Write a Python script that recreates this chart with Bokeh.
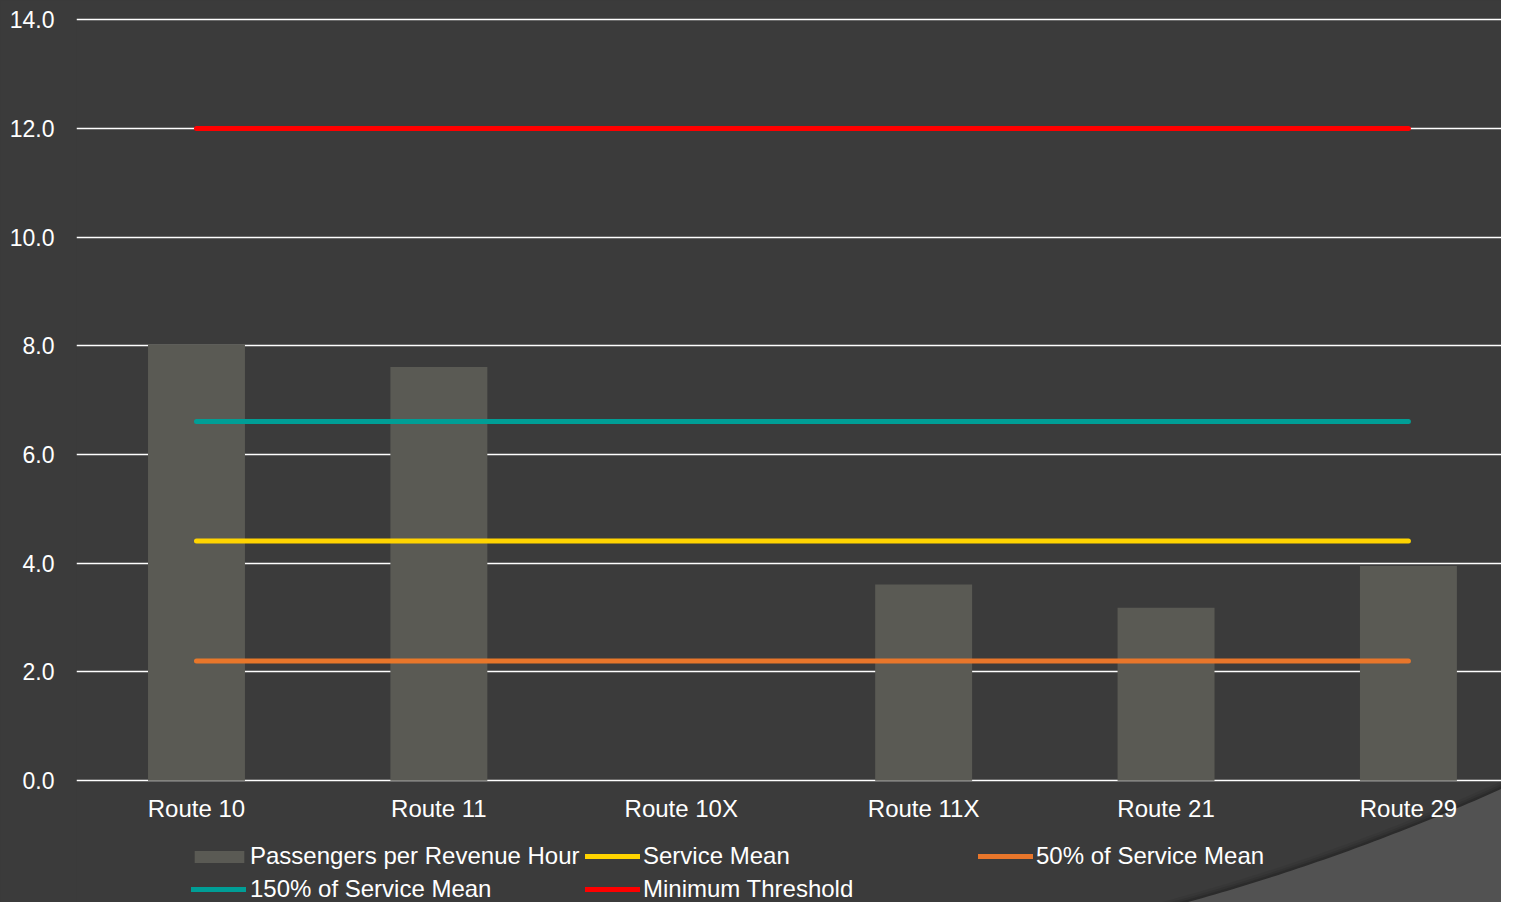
import numpy as np
from bokeh.plotting import figure
from bokeh.models import Range1d, FixedTicker, Legend, LegendItem, ColumnDataSource
from bokeh.core.properties import value
from bokeh.embed import file_html
from bokeh.resources import INLINE

# ---- data ----
routes = ["Route 10", "Route 11", "Route 10X", "Route 11X", "Route 21", "Route 29"]
passengers = [8.03, 7.61, 0.0, 3.61, 3.18, 3.95]
service_mean = 4.41
pct50_mean = 2.20
pct150_mean = 6.61
min_threshold = 12.0
y_ticks = [0, 2, 4, 6, 8, 10, 12, 14]

# ---- style ----
BG = "#3b3b3b"
BAR = "#5a5a54"
FONT = "Liberation Sans"

idx = list(range(len(routes)))
W, H = 1501, 902
p = figure(width=W, height=H, output_backend="svg", toolbar_location=None,
           x_range=Range1d(-0.495, 5.384), y_range=Range1d(-2.241, 14.04),
           x_axis_location=None,
           min_border_left=76, min_border_right=0, min_border_top=17, min_border_bottom=0)
p.background_fill_color = BG
p.border_fill_color = BG
p.outline_line_color = None
p.styles = {"background-color": BG}

ticker = FixedTicker(ticks=y_ticks)
p.yaxis.ticker = ticker
p.yaxis.major_label_overrides = {t: f"{t:.1f}" for t in y_ticks}
p.yaxis.axis_line_color = None
p.yaxis.major_tick_line_color = None
p.yaxis.minor_tick_line_color = None
p.yaxis.major_tick_out = 0
p.yaxis.major_tick_in = 0
p.yaxis.major_label_standoff = 22
p.yaxis.major_label_text_font = FONT
p.yaxis.major_label_text_font_size = "23px"
p.yaxis.major_label_text_color = "white"
p.xgrid.visible = False
p.ygrid.ticker = ticker
p.ygrid.grid_line_color = "#ffffff"
p.ygrid.grid_line_width = 1.6

# decorative corner shape (background ornament)
P0 = np.array([3.906, -2.452]); P1 = np.array([4.7025, -1.547]); P2 = np.array([5.449, -0.018])
t = np.linspace(0, 1, 60)[:, None]
curve = (1 - t) ** 2 * P0 + 2 * (1 - t) * t * P1 + t ** 2 * P2
for w, a in [(14, 0.06), (9, 0.09), (5, 0.12)]:
    p.line(curve[:, 0], curve[:, 1], line_color="black", line_alpha=a, line_width=w)
px = list(curve[:, 0]) + [5.7, 5.7]
py = list(curve[:, 1]) + [-0.018, -2.6]
p.patch(px, py, fill_color="#525252", line_color=None)

src = ColumnDataSource(dict(x=idx, top=passengers, route=routes))
r_bar = p.vbar(x="x", top="top", width=0.4, source=src, fill_color=BAR, line_color=None)

def hline(v, color):
    return p.line(x=idx, y=[v] * len(idx), line_color=color, line_width=5, line_cap="round")

r_min = hline(min_threshold, "#ff0000")
r_150 = hline(pct150_mean, "#009e96")
r_mean = hline(service_mean, "#ffd400")
r_50 = hline(pct50_mean, "#e8762b")

p.text(x="x", y=0, text="route", source=src, y_offset=28, text_align="center",
       text_baseline="middle", text_font=value(FONT), text_font_size="24px", text_color="white")

def add_leg(label, r, x, y, gw=55, gh=28, standoff=3):
    leg = Legend(items=[LegendItem(label=label, renderers=[r])], location=(x, y),
                 orientation="vertical", padding=0, margin=0, border_line_color=None,
                 background_fill_alpha=0, label_text_font=FONT, label_text_font_size="24px",
                 label_text_color="white", glyph_width=gw, glyph_height=gh, label_height=28,
                 label_standoff=standoff, spacing=0)
    p.add_layout(leg, "center")

add_leg("Passengers per Revenue Hour", r_bar, 112, 32, gw=62, gh=15, standoff=0)
add_leg("150% of Service Mean", r_150, 115, -1, standoff=4)
add_leg("Service Mean", r_mean, 509, 32)
add_leg("Minimum Threshold", r_min, 509, -1)
add_leg("50% of Service Mean", r_50, 902, 32)

open("out.html", "w").write(file_html(p, INLINE))
